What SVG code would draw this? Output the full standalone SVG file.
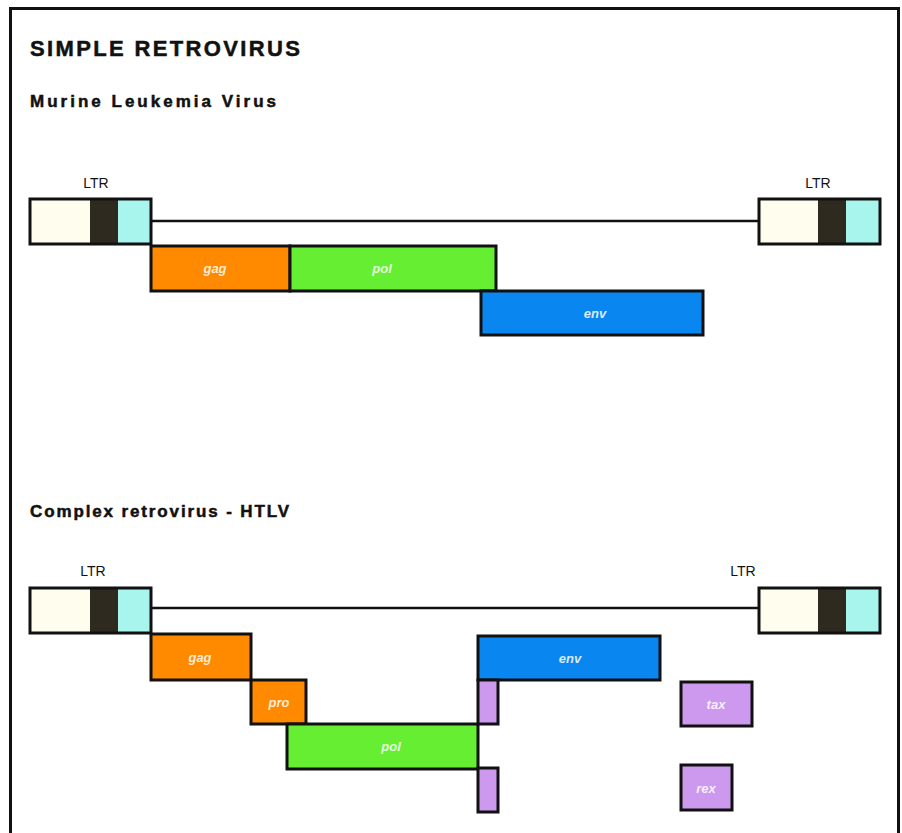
<svg xmlns="http://www.w3.org/2000/svg" width="902" height="833" viewBox="0 0 902 833">
<style>
.t{font-family:"Liberation Sans",Arial,sans-serif;font-weight:bold;fill:#111;stroke:#111;stroke-width:0.5}
.ltr{font-family:"Liberation Sans",Arial,sans-serif;font-size:14px;fill:#111;text-anchor:middle}
.g{stroke:#111;stroke-width:3}
.lab{font-family:"Liberation Sans",Arial,sans-serif;font-size:13px;font-style:italic;font-weight:bold;fill:#fff;fill-opacity:0.85;text-anchor:middle}
.cream{fill:#FFFDEE}.dark{fill:#2F2A20}.cyan{fill:#A8F5EE}
.or{fill:#FF8A00}.gr{fill:#66EE33}.bl{fill:#0A86F0}.pu{fill:#CC99EE}
</style>
<rect x="0" y="0" width="902" height="833" fill="#fff"/>
<path d="M10.5 833 V8.5 H898.5 V833" fill="none" stroke="#111" stroke-width="3"/>
<text class="t" x="30" y="56" font-size="22" textLength="270" lengthAdjust="spacing">SIMPLE RETROVIRUS</text>
<text class="t" x="30" y="107" font-size="17" textLength="246" lengthAdjust="spacing">Murine Leukemia Virus</text>
<text class="t" x="30" y="517" font-size="17" textLength="259" lengthAdjust="spacing">Complex retrovirus - HTLV</text>

<g id="connectors">
<line x1="151" y1="221" x2="759" y2="221" stroke="#111" stroke-width="2.5"/>
<line x1="151" y1="608" x2="759" y2="608" stroke="#111" stroke-width="2.5"/>
</g>

<g id="ltr1L">
<text class="ltr" x="96" y="188">LTR</text>
<rect class="cream" x="30" y="199" width="60" height="45"/>
<rect class="dark" x="90" y="199" width="28" height="45"/>
<rect class="cyan" x="118" y="199" width="33" height="45"/>
<rect x="30" y="199" width="121" height="45" fill="none" class="g"/>
</g>
<g id="ltr1R">
<text class="ltr" x="818" y="188">LTR</text>
<rect class="cream" x="759" y="199" width="59" height="45"/>
<rect class="dark" x="818" y="199" width="28" height="45"/>
<rect class="cyan" x="846" y="199" width="34" height="45"/>
<rect x="759" y="199" width="121" height="45" fill="none" class="g"/>
</g>
<g id="gag1"><rect class="or g" x="151" y="246" width="139" height="45"/><text class="lab" x="215" y="273">gag</text></g>
<g id="pol1"><rect class="gr g" x="290" y="246" width="206" height="45"/><text class="lab" x="382" y="273">pol</text></g>
<g id="env1"><rect class="bl g" x="481" y="291" width="222" height="44"/><text class="lab" x="595" y="318">env</text></g>

<g id="ltr2L">
<text class="ltr" x="93" y="576">LTR</text>
<rect class="cream" x="30" y="588" width="60" height="45"/>
<rect class="dark" x="90" y="588" width="28" height="45"/>
<rect class="cyan" x="118" y="588" width="33" height="45"/>
<rect x="30" y="588" width="121" height="45" fill="none" class="g"/>
</g>
<g id="ltr2R">
<text class="ltr" x="743" y="576">LTR</text>
<rect class="cream" x="759" y="588" width="59" height="45"/>
<rect class="dark" x="818" y="588" width="28" height="45"/>
<rect class="cyan" x="846" y="588" width="34" height="45"/>
<rect x="759" y="588" width="121" height="45" fill="none" class="g"/>
</g>
<g id="gag2"><rect class="or g" x="151" y="634" width="100" height="46"/><text class="lab" x="200" y="662">gag</text></g>
<g id="pro2"><rect class="or g" x="251" y="680" width="55" height="44"/><text class="lab" x="279" y="707">pro</text></g>
<g id="pol2"><rect class="gr g" x="287" y="724" width="191" height="45"/><text class="lab" x="391" y="751">pol</text></g>
<g id="env2"><rect class="bl g" x="478" y="636" width="182" height="44"/><text class="lab" x="570" y="663">env</text></g>
<g id="exon1"><rect class="pu g" x="478" y="680" width="20" height="44"/></g>
<g id="exon2"><rect class="pu g" x="478" y="768" width="20" height="44"/></g>
<g id="tax"><rect class="pu g" x="681" y="682" width="71" height="44"/><text class="lab" x="716" y="709">tax</text></g>
<g id="rex"><rect class="pu g" x="681" y="765" width="51" height="45"/><text class="lab" x="706" y="793">rex</text></g>
</svg>
